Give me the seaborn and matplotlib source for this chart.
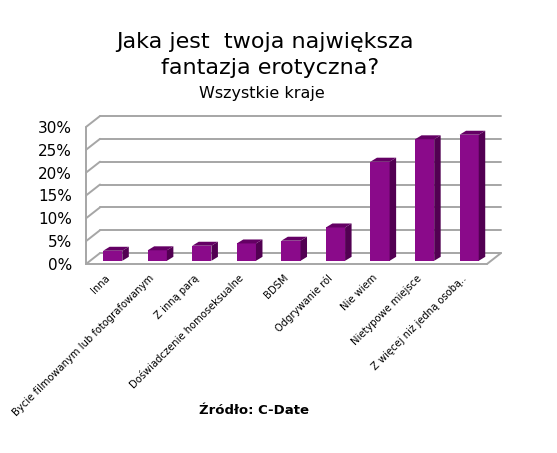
import numpy as np
import pandas as pd
import matplotlib
matplotlib.use('Agg')
import matplotlib.pyplot as plt
from matplotlib.patches import Polygon
import seaborn as sns

# data
categories = ['Inna', 'Bycie filmowanym lub fotografowanym', 'Z inną parą',
              'Doświadczenie homoseksualne', 'BDSM', 'Odgrywanie ról',
              'Nie wiem', 'Nietypowe miejsce', 'Z więcej niż jedną osobą..']
values = [2.2, 2.3, 3.3, 3.8, 4.4, 7.3, 21.7, 26.6, 27.6]
y_ticks = [0, 5, 10, 15, 20, 25, 30]

# fake 3d look
BACK_DX, BACK_DY = 0.315, 2.4     # offset of back wall
BAR_DX, BAR_DY = 0.10, 0.7        # bar front face sits a bit inside the floor
SIDE_DX, SIDE_DY = 0.146, 0.87    # bar depth
FRONT = '#8a0a8a'
SIDE = '#520052'
TOP = '#640064'
GRID = '#a6a6a6'

sns.set_style('white')
plt.rcParams['font.family'] = ['DejaVu Sans']
plt.rcParams['text.color'] = 'black'
plt.rcParams['xtick.color'] = 'black'
plt.rcParams['ytick.color'] = 'black'

fig = plt.figure(figsize=(5.57, 4.53), dpi=100)
W, H = 557, 453
left, right, top, bottom = 86, 501, 116, 264
ax = fig.add_axes([left / W, 1 - bottom / H, (right - left) / W, (bottom - top) / H])

df = pd.DataFrame({'cat': categories, 'val': values})
sns.barplot(data=df, x='cat', y='val', color=FRONT, width=0.43, saturation=1,
            ax=ax, zorder=3)

n = len(categories)
x0, x1 = -0.5, n - 0.5
ax.set_xlim(x0, x1 + BACK_DX)
ax.set_ylim(0, y_ticks[-1] + BACK_DY)

# walls / grid
gl = dict(color=GRID, lw=1.4, clip_on=False, zorder=1, solid_capstyle='round')
ax.plot([x0, x0], [0, y_ticks[-1]], **gl)
for v in y_ticks:
    ax.plot([x0, x0 + BACK_DX], [v, v + BACK_DY], **gl)
    ax.plot([x0 + BACK_DX, x1 + BACK_DX], [v + BACK_DY, v + BACK_DY], **gl)
ax.plot([x0, x1], [0, 0], **gl)
ax.plot([x1, x1 + BACK_DX], [0, BACK_DY], **gl)

# shift bars and add side/top faces
for p in list(ax.patches):
    p.set_x(p.get_x() + BAR_DX)
    p.set_y(BAR_DY)
    p.set_edgecolor('none')
    bx, bw, bh = p.get_x(), p.get_width(), p.get_height()
    y0, y1 = BAR_DY, BAR_DY + bh
    side = Polygon([(bx + bw, y0), (bx + bw + SIDE_DX, y0 + SIDE_DY),
                    (bx + bw + SIDE_DX, y1 + SIDE_DY), (bx + bw, y1)],
                   closed=True, facecolor=SIDE, edgecolor='none', zorder=3)
    topf = Polygon([(bx, y1), (bx + SIDE_DX, y1 + SIDE_DY),
                    (bx + bw + SIDE_DX, y1 + SIDE_DY), (bx + bw, y1)],
                   closed=True, facecolor=TOP, edgecolor='none', zorder=3)
    ax.add_patch(side)
    ax.add_patch(topf)

ax.set_yticks(y_ticks)
ax.set_yticklabels([f'{v}%' for v in y_ticks], fontsize=11)
ax.set_xticks(range(n))
ax.set_xticklabels(categories, fontsize=7.2, rotation=45, ha='right',
                   va='center', rotation_mode='anchor')
ax.tick_params(axis='y', length=0, pad=10)
ax.tick_params(axis='x', length=0, pad=9)
ax.set_xlabel('')
ax.set_ylabel('')
for s in ax.spines.values():
    s.set_visible(False)
ax.patch.set_alpha(0)

fig.text(265 / W, 1 - 48 / H, 'Jaka jest  twoja największa', fontsize=16,
         ha='center', va='baseline')
fig.text(270 / W, 1 - 74 / H, 'fantazja erotyczna?', fontsize=16,
         ha='center', va='baseline')
fig.text(262 / W, 1 - 98 / H, 'Wszystkie kraje', fontsize=11.5,
         ha='center', va='baseline')
fig.text(254 / W, 1 - 410 / H, 'Źródło: C-Date', fontsize=9.5,
         fontweight='bold', ha='center', va='center')

fig.savefig('out.png', dpi=100)
